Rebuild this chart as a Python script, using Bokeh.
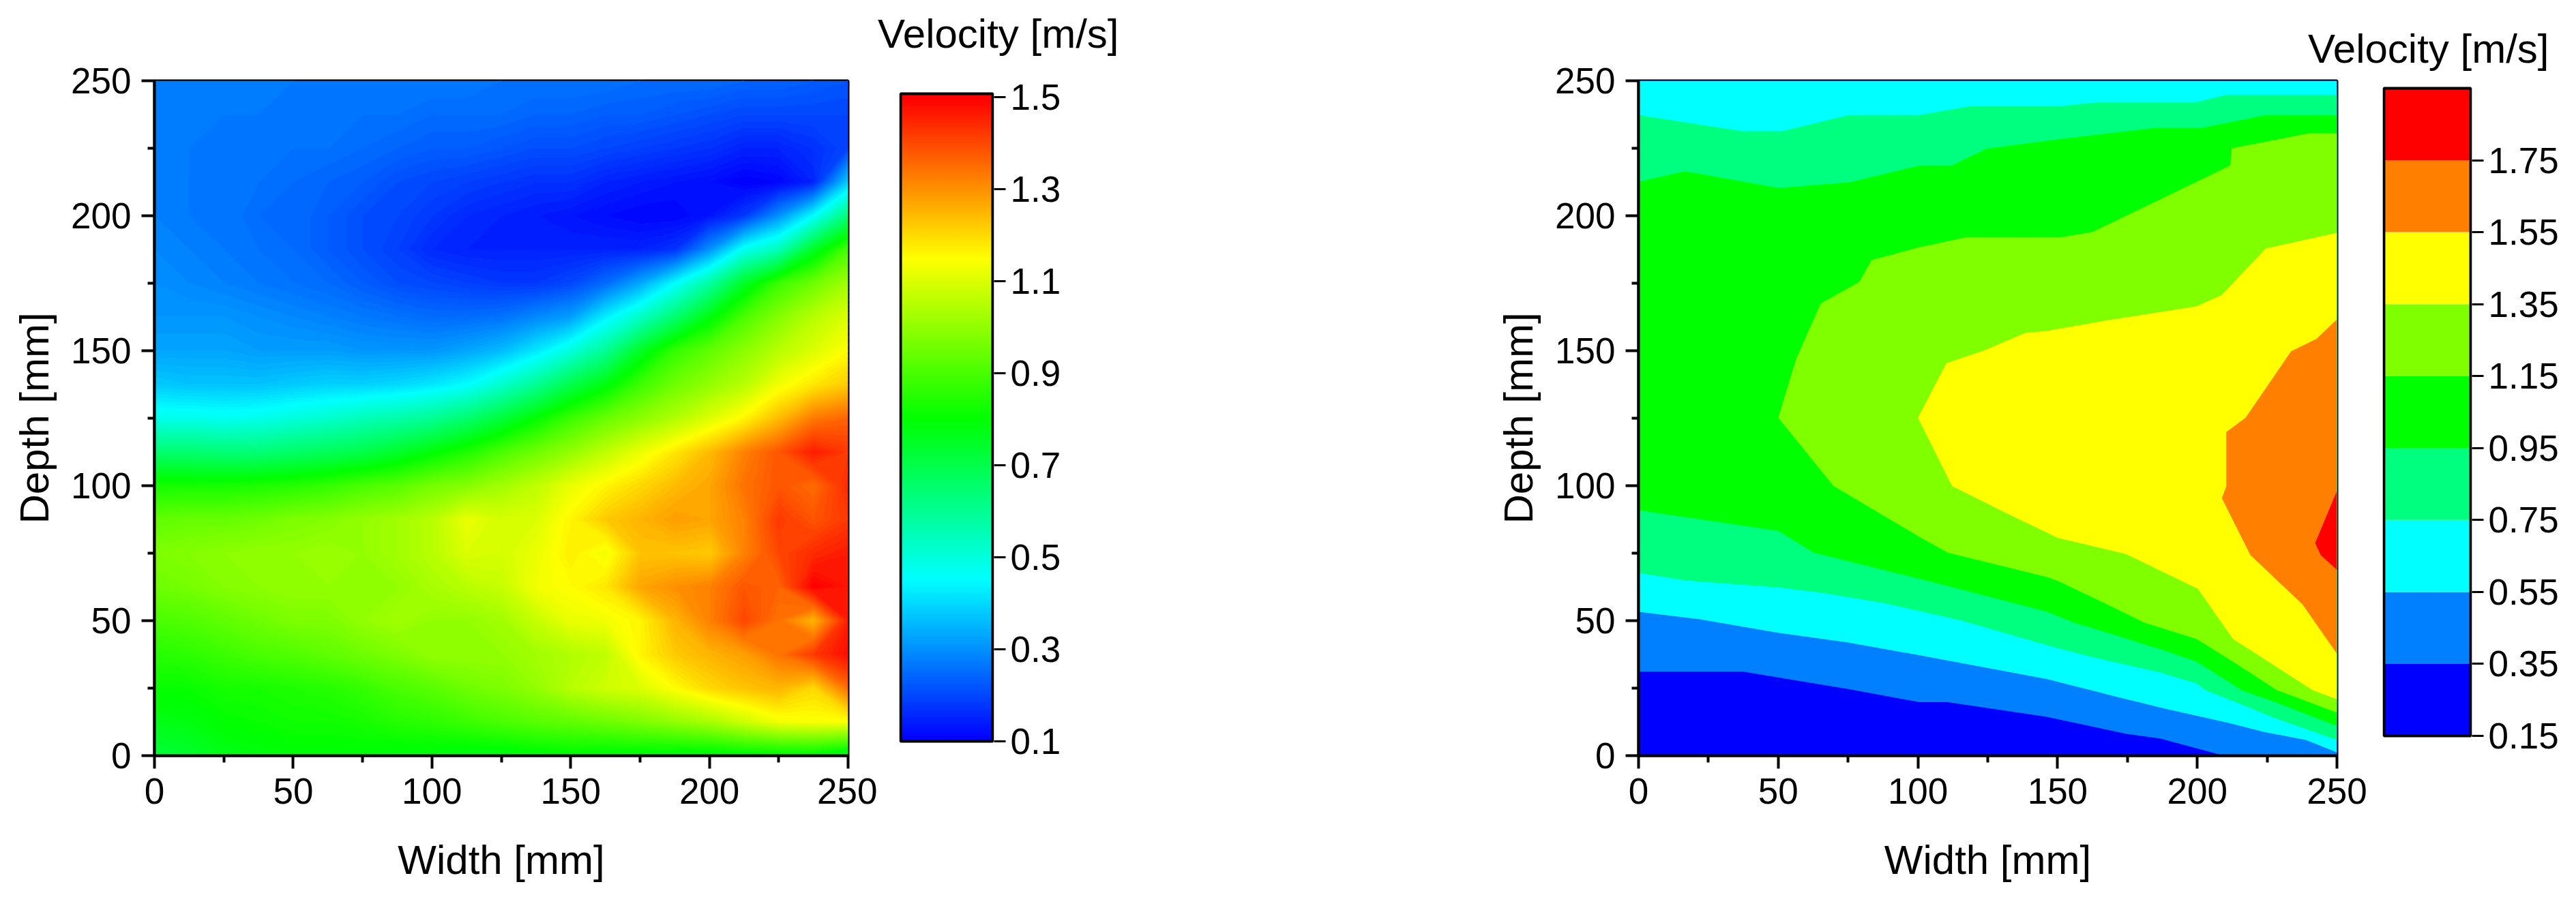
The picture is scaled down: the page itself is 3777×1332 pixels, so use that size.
from bokeh.embed import file_html
from bokeh.layouts import row
from bokeh.models import FixedTicker, Label, LinearColorMapper, NumeralTickFormatter, Range1d
from bokeh.plotting import figure
from bokeh.resources import INLINE
import numpy as np

FONT = "Liberation Sans"
TITLE = "Velocity [m/s]"

# ---------- left panel: velocity read on a 12.5 mm grid (rows from depth 0 upward) ----------
WIDTHS = [i * 12.5 for i in range(21)]
DEPTHS = [i * 12.5 for i in range(21)]
V_000 = [.72,.74,.77,.78,.79,.79,.79,.78,.78,.77,.77,.78,.79,.78,.78,.77,.77,.78,.78,.78,.74]
V_012 = [.77,.78,.80,.81,.82,.82,.83,.85,.86,.88,.90,.92,.93,.95,.97,1.0,1.03,1.08,1.13,1.14,1.14]
V_025 = [.81,.81,.83,.83,.84,.85,.87,.90,.92,.95,.97,1.0,1.05,1.08,1.10,1.15,1.20,1.23,1.25,1.20,1.35]
V_037 = [.85,.86,.88,.90,.91,.93,.95,.97,1.0,1.0,1.0,1.02,1.04,1.06,1.16,1.22,1.25,1.28,1.34,1.42,1.48]
V_050 = [.90,.91,.93,.95,.97,.97,1.0,1.02,1.0,1.0,1.02,1.07,1.12,1.13,1.16,1.25,1.32,1.40,1.34,1.25,1.46]
V_062 = [.95,.96,.98,.99,1.0,1.0,1.0,1.0,1.03,1.05,1.07,1.13,1.15,1.18,1.27,1.30,1.32,1.38,1.36,1.50,1.47]
V_075 = [.97,.98,.99,1.0,1.0,1.01,1.0,1.02,1.05,1.10,1.09,1.12,1.17,1.13,1.23,1.23,1.22,1.32,1.40,1.44,1.46]
V_087 = [.93,.94,.94,.95,.97,.98,1.0,1.02,1.05,1.12,1.09,1.10,1.16,1.22,1.25,1.28,1.27,1.32,1.42,1.38,1.42]
V_100 = [.83,.83,.83,.84,.85,.87,.90,.92,.96,.98,1.02,1.06,1.12,1.16,1.20,1.24,1.27,1.34,1.38,1.35,1.44]
V_112 = [.65,.65,.64,.64,.66,.68,.70,.74,.79,.84,.90,.95,1.0,1.06,1.12,1.18,1.24,1.32,1.38,1.46,1.42]
V_125 = [.48,.48,.47,.48,.50,.52,.55,.57,.60,.65,.72,.80,.88,.94,.99,1.04,1.10,1.16,1.24,1.33,1.36]
V_137 = [.38,.37,.37,.37,.38,.39,.39,.40,.42,.45,.52,.60,.70,.78,.88,.95,1.0,1.05,1.13,1.18,1.22]
V_150 = [.33,.33,.33,.32,.32,.32,.31,.31,.31,.33,.36,.42,.50,.60,.75,.87,.93,.99,1.05,1.10,1.15]
V_162 = [.31,.31,.31,.30,.29,.28,.27,.26,.25,.25,.26,.29,.32,.43,.53,.65,.78,.90,.98,1.05,1.10]
V_175 = [.30,.29,.28,.27,.26,.25,.23,.21,.20,.19,.18,.18,.20,.25,.33,.45,.58,.75,.88,.95,1.02]
V_187 = [.29,.28,.27,.26,.25,.23,.21,.19,.16,.15,.15,.15,.15,.15,.15,.17,.30,.47,.55,.75,.90]
V_200 = [.28,.27,.27,.25,.25,.23,.21,.20,.18,.16,.15,.14,.13,.12,.11,.11,.13,.18,.30,.45,.64]
V_212 = [.28,.27,.27,.26,.25,.24,.23,.21,.20,.19,.18,.17,.17,.15,.14,.13,.12,.10,.11,.15,.38]
V_225 = [.28,.27,.27,.27,.26,.26,.25,.24,.23,.23,.22,.21,.21,.20,.19,.18,.17,.15,.15,.17,.20]
V_237 = [.28,.28,.27,.27,.27,.27,.26,.26,.25,.25,.25,.24,.24,.23,.23,.22,.21,.20,.20,.20,.20]
V_250 = [.28,.28,.28,.28,.27,.27,.27,.27,.27,.27,.26,.26,.26,.26,.25,.25,.25,.24,.24,.23,.22]
VELOCITY = [V_000, V_012, V_025, V_037, V_050, V_062, V_075, V_087, V_100, V_112, V_125,
            V_137, V_150, V_162, V_175, V_187, V_200, V_212, V_225, V_237, V_250]

# ---------- right panel: contour boundaries (width, depth in mm) ----------
BAND_LEVELS = [.15, .35, .55, .75, .95, 1.15, 1.35, 1.55, 1.75, 1.95]
BAND_TICKS = [.15, .35, .55, .75, .95, 1.15, 1.35, 1.55, 1.75]
BAND_COLORS = ["#0000ff", "#007fff", "#00ffff", "#00ff7f", "#00ff00", "#7fff00", "#ffff00", "#ff7f00", "#ff0000"]

L035 = [(0,31.1),(37.4,31.1),(75,24.7),(100.6,19.8),(110.7,19.8),(146,14.4),(174.5,8.1),(186.6,6.4),(209.5,0)]
L055 = [(0,53.3),(22,50.5),(50,45.5),(75,41.9),(100.6,37.2),(146,28.4),(170.5,22),(188.4,17.4),(211,12.2),
        (224.2,8.7),(238.9,5.8),(250,1.2)]
L075 = [(0,67.7),(17,64.9),(50,62.3),(65,60.4),(88,56.5),(115.8,50),(146,41),(162,36.6),(186.8,30.8),(199.8,26.7),
        (203,24.2),(215.3,19.2),(227.5,14),(250,5.8)]
L095 = [(0,90.9),(50,83.3),(62.7,75.2),(100.6,65.5),(146,53.4),(155.8,49.3),(170.5,44.7),(188.4,38.9),(199.8,34.8),
        (216,24.2),(227.5,20),(250,11)]
L115 = [(50,125.2),(69.8,99.9),(100.6,81),(110.7,75.2),(146,66.2),(150,64.8),(166.4,56.7),(181,49.3),(199.8,43.2),
        (212.8,34.8),(228.3,24.4),(250,15.9)]
L135 = [(100,125.2),(112.2,99.9),(130.9,90.2),(146,82.7),(150,80.7),(174.5,74.7),(200.2,61.8),(212.8,43.2),
        (241.4,24.2),(250,20.9)]
L155 = [(210.4,119.9),(210.4,99.8),(208.8,95.4),(219,74.3),(237.7,56),(250,37.7)]
T075 = [(0,237.3),(37.4,231.3),(51.3,231.3),(75.3,237.3),(100.6,237.3),(118.3,240.5),(150,240.5),(163.8,242),
        (199.2,242),(210.6,244.8),(250,244.8)]
T095 = [(0,212.6),(16.7,216.5),(50,210.3),(75.3,212.4),(100.6,218.6),(112,218.6),(124.6,224.9),(150,228.3),
        (185.3,232.6),(201.7,232.6),(224.5,237.3),(250,237.3)]
T115 = [(50,125.2),(56.4,147),(65.2,167.5),(79,175.5),(83.4,183.6),(100.6,188.4),(117,192),(151,192),(162.5,194),
        (211.8,218.6),(212.3,225),(239.6,230.5),(250,230.5)]
T135 = [(100,125.2),(110.2,145.4),(123.4,150),(138.5,156.6),(146,157.3),(167.2,161.2),(199.8,166.5),(208.8,170.7),
        (224.5,187.9),(250,193.7)]
T155 = [(210.4,119.9),(217.3,125.2),(233.6,149.8),(242.7,154.4),(250,161.6)]
R175 = [(250,98.1),(242.2,78.7),(244.2,74.3),(250,68.8)]

X0, X1, Y0, Y1 = 0, 250, 0, 250
XTICKS = [0, 50, 100, 150, 200, 250]
XMINOR = [25, 75, 125, 175, 225]
BAR_TICKS = [.1, .3, .5, .7, .9, 1.1, 1.3, 1.5]

HEIGHT = 1316
TOP, BOTTOM = 118, HEIGHT - 1108


def rainbow(n):
    stops = [(0, 0, 255), (0, 255, 255), (0, 255, 0), (255, 255, 0), (255, 0, 0)]
    out = []
    for t in np.linspace(0, 4, n):
        i = min(int(t), 3)
        f = t - i
        c = [round(stops[i][k] + (stops[i + 1][k] - stops[i][k]) * f) for k in range(3)]
        out.append("#%02x%02x%02x" % tuple(c))
    return out


def make_main(width, left, right):
    p = figure(width=width, height=HEIGHT, x_range=Range1d(X0, X1), y_range=Range1d(Y0, Y1),
               output_backend="svg", toolbar_location=None,
               min_border_left=left, min_border_right=right, min_border_top=TOP, min_border_bottom=BOTTOM)
    p.grid.visible = False
    p.outline_line_color = "black"
    p.outline_line_width = 4
    p.xaxis.ticker = FixedTicker(ticks=XTICKS, minor_ticks=XMINOR)
    p.yaxis.ticker = FixedTicker(ticks=XTICKS, minor_ticks=XMINOR)
    p.xaxis.axis_label = "Width [mm]"
    p.yaxis.axis_label = "Depth [mm]"
    for ax in (p.xaxis, p.yaxis):
        ax.axis_line_width = 4
        ax.major_tick_line_width = 4
        ax.minor_tick_line_width = 4
        ax.major_tick_out = 19
        ax.major_tick_in = 0
        ax.minor_tick_out = 10
        ax.minor_tick_in = 0
        ax.major_label_text_font = FONT
        ax.major_label_text_font_size = "53px"
        ax.major_label_text_color = "black"
        ax.axis_label_text_font = FONT
        ax.axis_label_text_font_size = "60px"
        ax.axis_label_text_font_style = "normal"
        ax.axis_label_text_color = "black"
    p.xaxis.major_label_standoff = 14
    p.yaxis.major_label_standoff = 15
    p.xaxis.axis_label_standoff = 46
    p.yaxis.axis_label_standoff = 17
    return p


def make_bar(width, left, right, low, high, ticks, fmt, margin_left):
    # the frame is 2 px wider than the bar on each side, so that the bar's black outline is not clipped
    p = figure(width=width, height=HEIGHT, x_range=Range1d(-0.015, 1.015), y_range=Range1d(low, high),
               output_backend="svg", toolbar_location=None, y_axis_location="right",
               min_border_left=left, min_border_right=right, min_border_top=TOP, min_border_bottom=BOTTOM,
               margin=(0, 0, 0, margin_left))
    p.border_fill_color = None
    p.background_fill_color = None
    p.outline_line_color = None
    p.grid.visible = False
    p.xaxis.visible = False
    ax = p.yaxis[0]
    ax.ticker = FixedTicker(ticks=ticks)
    ax.formatter = NumeralTickFormatter(format=fmt)
    ax.axis_line_color = None
    ax.major_tick_line_width = 3
    ax.major_tick_out = 17
    ax.major_tick_in = 0
    ax.minor_tick_line_color = None
    ax.major_label_standoff = 7
    ax.major_label_text_font = FONT
    ax.major_label_text_font_size = "53px"
    ax.major_label_text_color = "black"
    return p


def title_label(tx, ty):
    return Label(x=tx, y=ty, x_units="canvas", y_units="canvas", text=TITLE, text_font=FONT,
                 text_font_size="60px", text_color="black", text_baseline="alphabetic", text_align="right")


# left heat map
pal = rainbow(140)
levels = list(np.round(np.linspace(0.1, 1.5, 141), 3))
p1 = make_main(1286, 226, 43)
p1.contour(WIDTHS, DEPTHS, np.array(VELOCITY), levels, fill_color=pal, line_color=rainbow(141), line_width=1.5)

# left colour bar
b1 = make_bar(930, 72, 719, 0.0689, 1.5356, BAR_TICKS, "0.0", -40)
b1.add_layout(title_label(394, 49), "above")
mapper = LinearColorMapper(palette=rainbow(256), low=0.1, high=1.5)
b1.image(image=[np.linspace(0.1, 1.5074, 949).reshape(-1, 1)], x=0, y=0.1, dw=1, dh=1.4074, color_mapper=mapper)
b1.quad(left=0, right=1, bottom=0.1, top=1.5074, fill_color=None, line_color="black", line_width=4)

# right filled contours (superlevel sets painted from low to high)
p2 = make_main(1299, 226, 49)
closed = {
    0: [(X0, Y0), (X1, Y0), (X1, Y1), (X0, Y1)],
    1: L035 + [(X1, Y0), (X1, Y1), (X0, Y1)],
    2: L055 + [(X1, Y1), (X0, Y1)],
    3: L075 + T075[::-1],
    4: L095 + T095[::-1],
    5: L115 + T115[::-1][:-1],
    6: L135 + T135[::-1][:-1],
    7: L155 + T155[::-1][:-1],
    8: R175,
}
for k, color in enumerate(BAND_COLORS):
    xs, ys = zip(*closed[k])
    p2.patch(list(xs), list(ys), fill_color=color, line_color=None)

# right colour bar
b2 = make_bar(394, 118, 145, 0.0951, 1.9708, BAND_TICKS, "0.00", -100)
b2.add_layout(title_label(362, 71), "above")
b2.quad(left=0, right=1, bottom=BAND_LEVELS[:-1], top=BAND_LEVELS[1:], fill_color=BAND_COLORS, line_color=None)
b2.quad(left=0, right=1, bottom=BAND_LEVELS[0], top=BAND_LEVELS[-1], fill_color=None, line_color="black", line_width=4)

page = row(p1, b1, p2, b2, spacing=0)
open("out.html", "w").write(file_html(page, INLINE))
